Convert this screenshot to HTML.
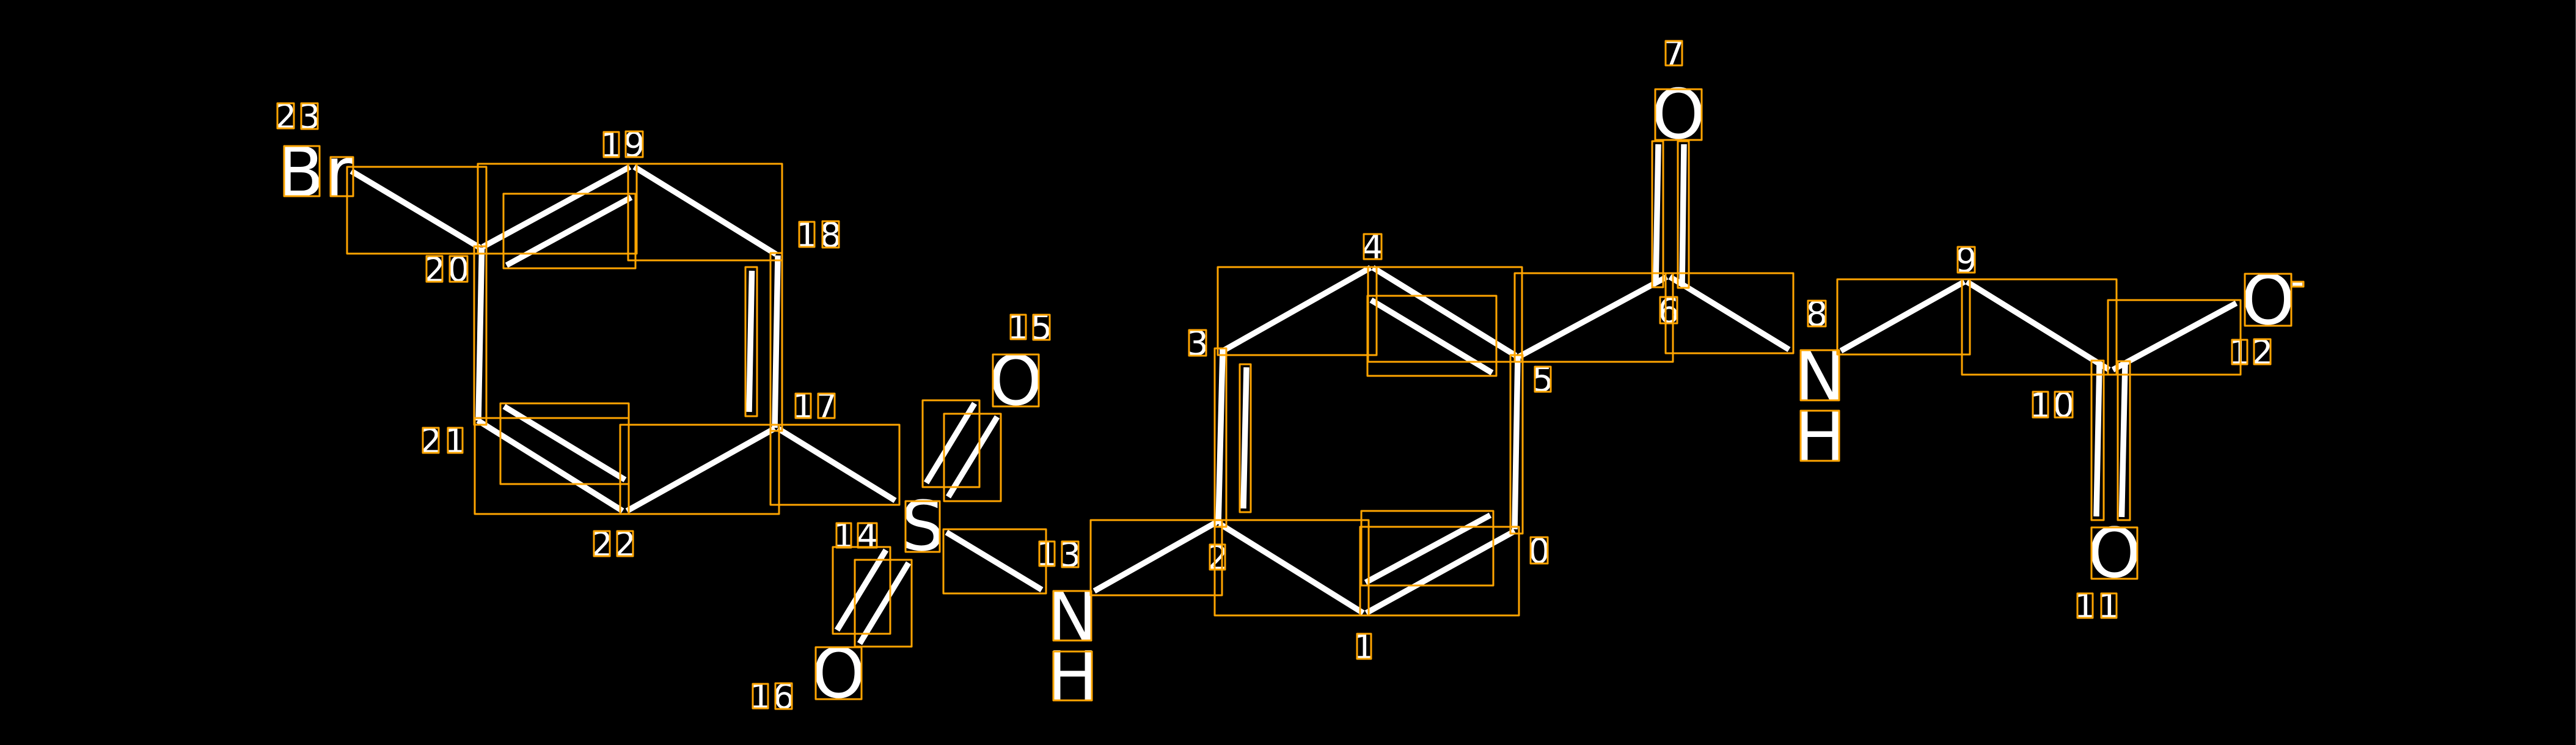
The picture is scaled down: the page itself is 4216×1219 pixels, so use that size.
<!DOCTYPE html>
<html><head><meta charset="utf-8"><title>Molecule</title>
<style>
html,body{margin:0;padding:0;background:#000;width:4216px;height:1219px;overflow:hidden}
svg{display:block}
text{font-family:"DejaVu Sans",sans-serif;fill:#fff;text-anchor:middle}
.s{font-size:56px}.b{font-size:112px}
</style></head><body>
<svg xmlns="http://www.w3.org/2000/svg" width="4216" height="1219" viewBox="0 0 4216 1219">
<rect width="4216" height="1219" fill="#000"/>
<rect x="4215" y="0" width="1" height="1219" fill="#666"/>
<g stroke="#fff" stroke-width="9.5" fill="none">
<path d="M575 280L785 405"/>
<path d="M790 404L1031 273"/>
<path d="M829 434L1033 323"/>
<path d="M1038 273L1270 416"/>
<path d="M1273 418L1268 700"/>
<path d="M1230.5 443L1226 674"/>
<path d="M788.5 405L783 688"/>
<path d="M782 688L1019 836"/>
<path d="M825 665L1023 785"/>
<path d="M1026 836L1268 701"/>
<path d="M1273 701L1465 819"/>
<path d="M1516 790L1595 660"/>
<path d="M1552 813L1632 682"/>
<path d="M1370 1031L1450 900"/>
<path d="M1407 1053L1487 921"/>
<path d="M1549 871L1705 965"/>
<path d="M1791 967L1990 855"/>
<path d="M1994 858L2001 573"/>
<path d="M2040 601L2035 832"/>
<path d="M1998 576L2243 438"/>
<path d="M2247 438L2481 582"/>
<path d="M2244 491L2442 610"/>
<path d="M2484 582L2479 866"/>
<path d="M1996 857L2231 1003"/>
<path d="M2236 1003L2479 869"/>
<path d="M2235 953L2439 843"/>
<path d="M2487 583L2728 453"/>
<path d="M2733 453L2928 572"/>
<path d="M2714 236L2710 464"/>
<path d="M2756 236L2753 466"/>
<path d="M3013 574L3215 461"/>
<path d="M3219 461L3452 605"/>
<path d="M3458 605L3660 496"/>
<path d="M3436 595L3431 845"/>
<path d="M3478 596L3472.5 846"/>
</g>
<text class="s" x="467.5" y="210">2</text>
<text class="s" x="506.5" y="210">3</text>
<text class="b" x="492" y="321">B</text>
<text class="b" x="555" y="321">r</text>
<text class="s" x="1000.5" y="257">1</text>
<text class="s" x="1038" y="256">9</text>
<text class="s" x="1320.5" y="404">1</text>
<text class="s" x="1359.5" y="404">8</text>
<text class="s" x="711" y="461">2</text>
<text class="s" x="750.5" y="460">0</text>
<text class="s" x="1314.5" y="684">1</text>
<text class="s" x="1352.5" y="684">7</text>
<text class="s" x="705" y="741">2</text>
<text class="s" x="745" y="741">1</text>
<text class="s" x="985" y="910">2</text>
<text class="s" x="1023" y="910">2</text>
<text class="s" x="1666.5" y="555">1</text>
<text class="s" x="1704.5" y="555">5</text>
<text class="b" x="1662.5" y="662">O</text>
<text class="b" x="1510" y="900">S</text>
<text class="s" x="1381" y="896">1</text>
<text class="s" x="1419.5" y="896">4</text>
<text class="b" x="1372.5" y="1141">O</text>
<text class="s" x="1244.5" y="1159">1</text>
<text class="s" x="1282.5" y="1159">6</text>
<text class="s" x="1713.5" y="926">1</text>
<text class="s" x="1751.5" y="927">3</text>
<text class="b" x="1755" y="1048">N</text>
<text class="b" x="1755.5" y="1146">H</text>
<text class="s" x="1960" y="581">3</text>
<text class="s" x="1992.5" y="932">2</text>
<text class="s" x="2246.5" y="424">4</text>
<text class="s" x="2525" y="640">5</text>
<text class="s" x="2519" y="921">0</text>
<text class="s" x="2232.5" y="1078">1</text>
<text class="s" x="2731" y="528">6</text>
<text class="s" x="2739.5" y="107">7</text>
<text class="b" x="2747" y="226">O</text>
<text class="s" x="2973.5" y="533">8</text>
<text class="b" x="2978.5" y="655">N</text>
<text class="b" x="2978.5" y="754">H</text>
<text class="s" x="3218" y="445">9</text>
<text class="s" x="3339.5" y="683">1</text>
<text class="s" x="3377.5" y="682">0</text>
<text class="b" x="3460.5" y="944">O</text>
<text class="s" x="3412.5" y="1011">1</text>
<text class="s" x="3451.5" y="1011">1</text>
<text class="b" x="3712" y="530">O</text>
<text x="3760" y="482" font-size="62">-</text>
<text class="s" x="3665.5" y="596">1</text>
<text class="s" x="3702.5" y="596">2</text>
<g fill="none" stroke="#FFA500" stroke-width="3" stroke-linejoin="round">
<rect x="454" y="169" width="27" height="41"/>
<rect x="493" y="169" width="27" height="42"/>
<rect x="465" y="239" width="58" height="82"/>
<rect x="541" y="257" width="37" height="64"/>
<rect x="988" y="216" width="25" height="41"/>
<rect x="1024" y="215" width="28" height="42"/>
<rect x="1308" y="363" width="25" height="41"/>
<rect x="1346" y="362" width="27" height="43"/>
<rect x="698" y="419" width="26" height="42"/>
<rect x="736" y="419" width="29" height="42"/>
<rect x="1302" y="644" width="25" height="40"/>
<rect x="1339" y="644" width="27" height="40"/>
<rect x="692" y="700" width="26" height="41"/>
<rect x="733" y="700" width="24" height="41"/>
<rect x="972" y="869" width="26" height="41"/>
<rect x="1010" y="869" width="26" height="41"/>
<rect x="1654" y="515" width="25" height="40"/>
<rect x="1691" y="515" width="27" height="41"/>
<rect x="1625" y="580" width="75" height="85"/>
<rect x="1482" y="820" width="56" height="83"/>
<rect x="1369" y="856" width="24" height="40"/>
<rect x="1404" y="856" width="31" height="40"/>
<rect x="1335" y="1059" width="75" height="85"/>
<rect x="1232" y="1119" width="25" height="40"/>
<rect x="1269" y="1118" width="27" height="42"/>
<rect x="1701" y="886" width="25" height="40"/>
<rect x="1738" y="886" width="27" height="42"/>
<rect x="1724" y="967" width="62" height="81"/>
<rect x="1724" y="1066" width="63" height="80"/>
<rect x="1946" y="540" width="28" height="42"/>
<rect x="1980" y="891" width="25" height="41"/>
<rect x="2232" y="383" width="29" height="41"/>
<rect x="2512" y="600" width="26" height="41"/>
<rect x="2505" y="879" width="28" height="43"/>
<rect x="2221" y="1037" width="23" height="41"/>
<rect x="2717" y="486" width="28" height="43"/>
<rect x="2726" y="67" width="27" height="40"/>
<rect x="2709" y="146" width="76" height="83"/>
<rect x="2959" y="492" width="29" height="42"/>
<rect x="2947" y="573" width="63" height="82"/>
<rect x="2947" y="672" width="63" height="82"/>
<rect x="3204" y="404" width="28" height="42"/>
<rect x="3327" y="641" width="25" height="42"/>
<rect x="3363" y="641" width="29" height="42"/>
<rect x="3423" y="863" width="75" height="84"/>
<rect x="3400" y="971" width="25" height="40"/>
<rect x="3439" y="971" width="25" height="40"/>
<rect x="3674" y="448" width="76" height="85"/>
<rect x="3750" y="461" width="20" height="8"/>
<rect x="3653" y="556" width="25" height="40"/>
<rect x="3689" y="555" width="27" height="41"/>
<rect x="568" y="273" width="228" height="142"/>
<rect x="782" y="268" width="260" height="147"/>
<rect x="1028" y="268" width="252" height="158"/>
<rect x="824" y="317" width="216" height="122"/>
<rect x="1261" y="414" width="19" height="291"/>
<rect x="1220" y="437" width="19" height="244"/>
<rect x="776" y="403" width="20" height="292"/>
<rect x="777" y="684" width="252" height="157"/>
<rect x="819" y="660" width="210" height="132"/>
<rect x="1015" y="695" width="260" height="146"/>
<rect x="1261" y="695" width="211" height="131"/>
<rect x="1510" y="655" width="93" height="142"/>
<rect x="1545" y="677" width="93" height="143"/>
<rect x="1363" y="895" width="94" height="142"/>
<rect x="1399" y="916" width="93" height="142"/>
<rect x="1544" y="866" width="168" height="105"/>
<rect x="1785" y="851" width="215" height="123"/>
<rect x="1988" y="570" width="19" height="292"/>
<rect x="2029" y="596" width="18" height="242"/>
<rect x="1993" y="437" width="260" height="144"/>
<rect x="2239" y="437" width="252" height="155"/>
<rect x="2238" y="484" width="211" height="131"/>
<rect x="2472" y="581" width="20" height="292"/>
<rect x="2226" y="862" width="260" height="145"/>
<rect x="2228" y="836" width="216" height="122"/>
<rect x="1988" y="851" width="252" height="156"/>
<rect x="2479" y="447" width="259" height="145"/>
<rect x="2726" y="447" width="209" height="131"/>
<rect x="2704" y="231" width="18" height="239"/>
<rect x="2746" y="231" width="18" height="240"/>
<rect x="3007" y="457" width="217" height="123"/>
<rect x="3211" y="457" width="253" height="156"/>
<rect x="3450" y="491" width="217" height="122"/>
<rect x="3423" y="590" width="20" height="261"/>
<rect x="3466" y="591" width="20" height="260"/>
</g>
</svg>
</body></html>
